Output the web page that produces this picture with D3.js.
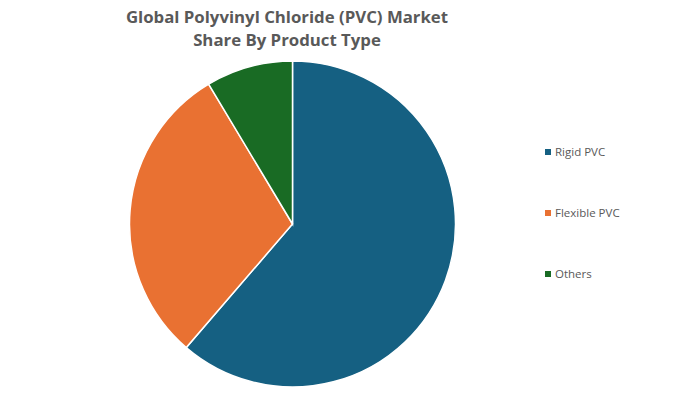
<!DOCTYPE html>
<html>
<head>
<meta charset="utf-8">
<script src="https://cdn.jsdelivr.net/npm/d3@7"></script>
<style>
  body { margin: 0; background: #fff; }
  text { font-family: "Open Sans", "Noto Sans", sans-serif; }
</style>
</head>
<body>
<script>
var width = 681,
    height = 403;

var categories = ["Rigid PVC", "Flexible PVC", "Others"];
var shares = [61.3, 30.1, 8.6];
var colors = ["#156082", "#E97132", "#196B24"];
var titleLines = ["Global Polyvinyl Chloride (PVC) Market", "Share By Product Type"];

var data = categories.map(function(c, i){ return {name: c, value: shares[i]}; });

var svg = d3.select("body").append("svg")
            .attr("width", width)
            .attr("height", height);

// title
svg.append("g").selectAll("text")
   .data(titleLines)
   .enter()
   .append("text")
   .attr("x", 287)
   .attr("y", function(d, i){ return 23 + i * 23; })
   .attr("text-anchor", "middle")
   .attr("font-size", 16.8)
   .attr("font-weight", "bold")
   .attr("fill", "#595959")
   .text(function(d){ return d; });

// pie
var color = d3.scaleOrdinal().domain(categories).range(colors);
var pie = d3.pie().sort(null).value(function(d){ return d.value; });
var arc = d3.arc().innerRadius(0).outerRadius(163);

var g = svg.append("g").attr("transform", "translate(292.5,224)");
g.selectAll("path")
 .data(pie(data))
 .enter()
 .append("path")
 .attr("d", arc)
 .attr("fill", function(d){ return color(d.data.name); })
 .attr("stroke", "#fff")
 .attr("stroke-width", 1.5);

// legend
var legendY = d3.scalePoint().domain(categories).range([152, 274]);
var legend = svg.append("g").selectAll("g")
                .data(categories)
                .enter()
                .append("g")
                .attr("transform", function(d){ return "translate(545," + legendY(d) + ")"; });
legend.append("rect")
      .attr("x", 0).attr("y", -3)
      .attr("width", 6).attr("height", 6)
      .attr("fill", function(d){ return color(d); });
legend.append("text")
      .attr("x", 10).attr("y", 4)
      .attr("font-size", 11.5)
      .attr("fill", "#595959")
      .text(function(d){ return d; });
</script>
</body>
</html>
